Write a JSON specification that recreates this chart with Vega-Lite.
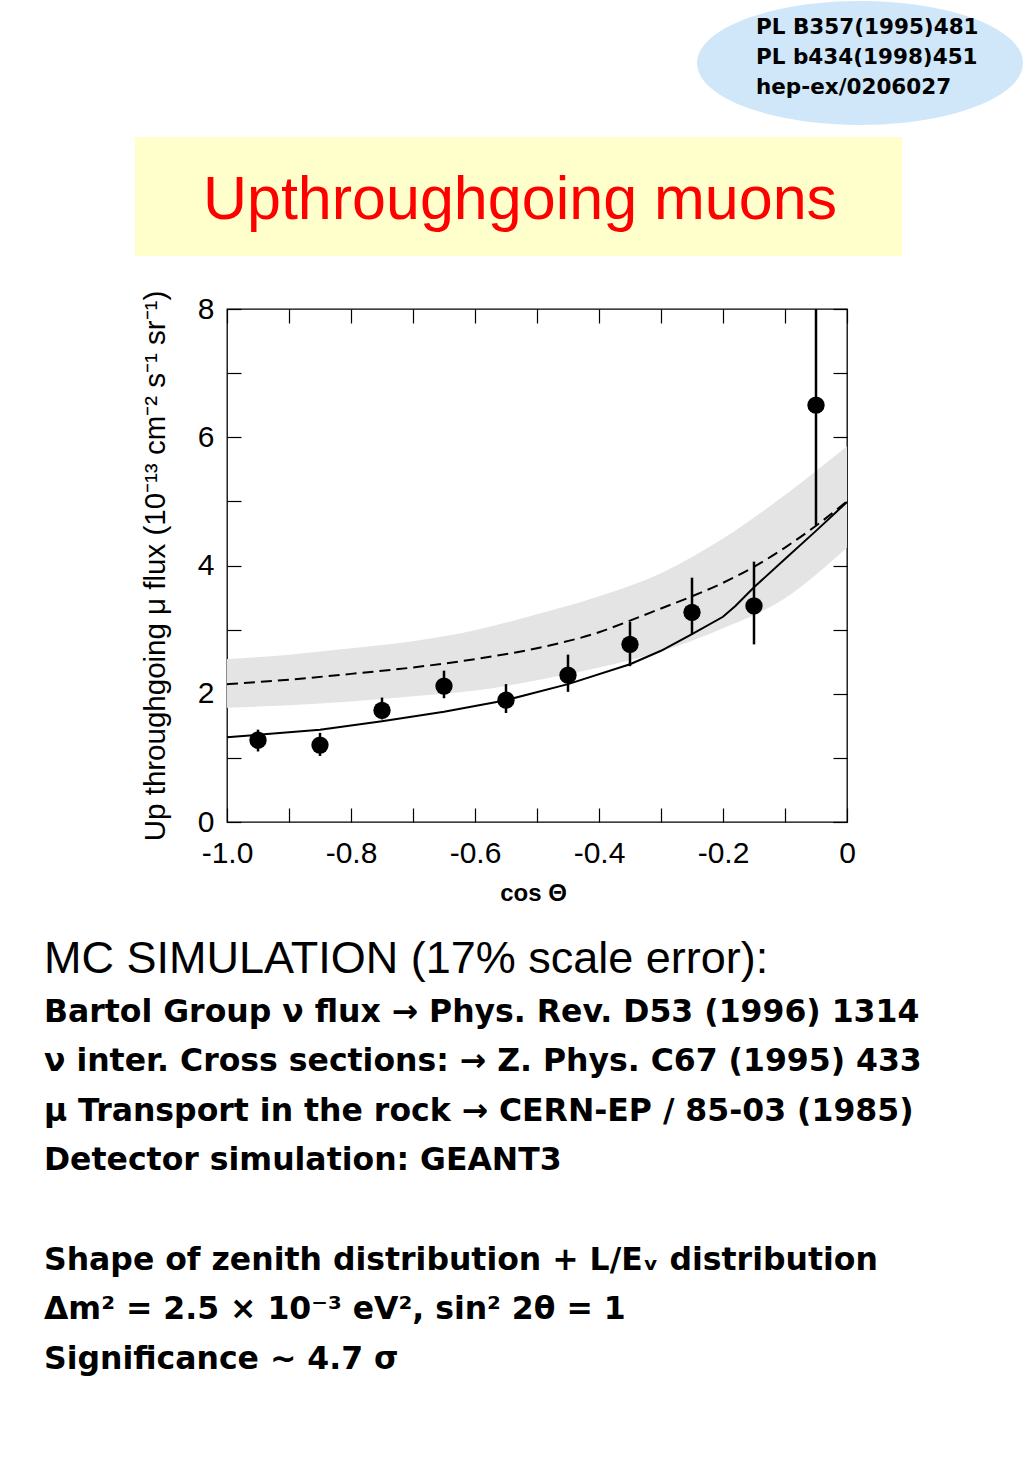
{
  "$schema": "https://vega.github.io/schema/vega-lite/v6.json",
  "width": 620,
  "height": 513,
  "autosize": {"type": "none"},
  "padding": {"left": 227, "top": 309, "right": 177, "bottom": 657},
  "background": "white",
  "config": {"view": {"stroke": "black", "strokeWidth": 1.3}, "font": "Liberation Sans"},
  "datasets": {
    "points": [
      {"cos": -0.95, "flux": 1.275, "lo": 1.10, "hi": 1.44},
      {"cos": -0.85, "flux": 1.20, "lo": 1.03, "hi": 1.39},
      {"cos": -0.75, "flux": 1.74, "lo": 1.60, "hi": 1.94},
      {"cos": -0.65, "flux": 2.12, "lo": 1.93, "hi": 2.36},
      {"cos": -0.55, "flux": 1.90, "lo": 1.70, "hi": 2.15},
      {"cos": -0.45, "flux": 2.29, "lo": 2.03, "hi": 2.61},
      {"cos": -0.35, "flux": 2.77, "lo": 2.43, "hi": 3.12},
      {"cos": -0.25, "flux": 3.27, "lo": 2.93, "hi": 3.81},
      {"cos": -0.15, "flux": 3.37, "lo": 2.77, "hi": 4.06},
      {"cos": -0.05, "flux": 6.50, "lo": 4.63, "hi": 8.0}
    ],
    "band": [
      {"cos": -1.0, "lo": 1.78, "hi": 2.54},
      {"cos": -0.9, "lo": 1.82, "hi": 2.61},
      {"cos": -0.8, "lo": 1.88, "hi": 2.71},
      {"cos": -0.7, "lo": 1.96, "hi": 2.82},
      {"cos": -0.6, "lo": 2.05, "hi": 2.99},
      {"cos": -0.5, "lo": 2.21, "hi": 3.24},
      {"cos": -0.4, "lo": 2.41, "hi": 3.52},
      {"cos": -0.3, "lo": 2.66, "hi": 3.88},
      {"cos": -0.2, "lo": 3.02, "hi": 4.42},
      {"cos": -0.1, "lo": 3.49, "hi": 5.10},
      {"cos": 0.0, "lo": 4.28, "hi": 5.86}
    ],
    "nomix": [
      {"cos": -1.0, "flux": 2.15},
      {"cos": -0.9, "flux": 2.22},
      {"cos": -0.8, "flux": 2.31},
      {"cos": -0.7, "flux": 2.41},
      {"cos": -0.6, "flux": 2.54},
      {"cos": -0.5, "flux": 2.71},
      {"cos": -0.4, "flux": 2.96},
      {"cos": -0.35, "flux": 3.14},
      {"cos": -0.3, "flux": 3.33},
      {"cos": -0.25, "flux": 3.52},
      {"cos": -0.2, "flux": 3.73},
      {"cos": -0.15, "flux": 3.98},
      {"cos": -0.1, "flux": 4.28},
      {"cos": -0.05, "flux": 4.62},
      {"cos": 0.0, "flux": 5.0}
    ],
    "osc": [
      {"cos": -1.0, "flux": 1.32},
      {"cos": -0.95, "flux": 1.36},
      {"cos": -0.85, "flux": 1.44},
      {"cos": -0.75, "flux": 1.57},
      {"cos": -0.65, "flux": 1.72},
      {"cos": -0.55, "flux": 1.90},
      {"cos": -0.45, "flux": 2.15},
      {"cos": -0.35, "flux": 2.46},
      {"cos": -0.3, "flux": 2.67},
      {"cos": -0.25, "flux": 2.93},
      {"cos": -0.2, "flux": 3.20},
      {"cos": -0.18, "flux": 3.37},
      {"cos": -0.15, "flux": 3.66},
      {"cos": -0.1, "flux": 4.10},
      {"cos": -0.05, "flux": 4.54},
      {"cos": 0.0, "flux": 4.99}
    ]
  },
  "resolve": {"axis": {"x": "independent", "y": "independent"}},
  "layer": [
    {
      "data": {"values": [{"label": "header"}]},
      "mark": {"type": "rect", "color": "#ffffcc"},
      "encoding": {
        "x": {"datum": -1.1484, "type": "quantitative", "scale": {"domain": [-1, 0], "nice": false, "zero": false}, "axis": null},
        "x2": {"datum": 0.0887},
        "y": {"datum": 10.682, "type": "quantitative", "scale": {"domain": [0, 8], "nice": false, "zero": false}, "axis": null},
        "y2": {"datum": 8.827}
      }
    },
    {
      "data": {"values": [{"t": "Upthroughgoing muons"}]},
      "mark": {"type": "text", "font": "Liberation Sans", "fontSize": 61, "color": "#ff0000", "align": "center", "baseline": "alphabetic"},
      "encoding": {
        "text": {"field": "t"},
        "x": {"datum": -0.5274, "type": "quantitative", "scale": {"domain": [-1, 0], "nice": false, "zero": false}, "axis": null},
        "y": {"datum": 9.4035, "type": "quantitative", "scale": {"domain": [0, 8], "nice": false, "zero": false}, "axis": null}
      }
    },
    {
      "data": {"values": [{"label": "refs"}]},
      "mark": {"type": "point", "shape": "M-1,0A1,0.38,0,1,1,1,0A1,0.38,0,1,1,-1,0Z", "size": 106276, "filled": true, "color": "#cfe7f9", "opacity": 1},
      "encoding": {
        "x": {"datum": 0.02097, "type": "quantitative", "scale": {"domain": [-1, 0], "nice": false, "zero": false}, "axis": null},
        "y": {"datum": 11.836, "type": "quantitative", "scale": {"domain": [0, 8], "nice": false, "zero": false}, "axis": null}
      }
    },
    {
      "data": {"values": [{"t": "PL B357(1995)481\nPL b434(1998)451\nhep-ex/0206027"}]},
      "mark": {"type": "text", "font": "DejaVu Sans", "fontWeight": "bold", "fontSize": 21.5, "lineHeight": 30, "lineBreak": "\n", "color": "black", "align": "left", "baseline": "alphabetic"},
      "encoding": {
        "text": {"field": "t"},
        "x": {"datum": -0.1468, "type": "quantitative", "scale": {"domain": [-1, 0], "nice": false, "zero": false}, "axis": null},
        "y": {"datum": 12.288, "type": "quantitative", "scale": {"domain": [0, 8], "nice": false, "zero": false}, "axis": null}
      }
    },
    {
      "data": {"name": "band"},
      "mark": {"type": "area", "color": "#e4e4e4", "interpolate": "monotone"},
      "encoding": {
        "x": {
          "field": "cos", "type": "quantitative",
          "scale": {"domain": [-1, 0], "nice": false, "zero": false},
          "axis": {
            "orient": "bottom", "values": [-1, -0.9, -0.8, -0.7, -0.6, -0.5, -0.4, -0.3, -0.2, -0.1, 0],
            "tickSize": -14, "tickColor": "black", "tickWidth": 1.2, "domain": false, "grid": false,
            "labelFont": "Liberation Sans", "labelFontSize": 30, "labelColor": "black", "labelPadding": 30,
            "labelFlush": false, "labelOverlap": false, "labelBaseline": "top",
            "labelExpr": "datum.value == 0 ? '0' : (abs(round(datum.value * 10)) % 2 == 0 ? replace(format(datum.value, '.1f'), '\u2212', '-') : '')",
            "title": "cos Θ", "titleFont": "Liberation Sans", "titleFontWeight": "bold", "titleFontSize": 24, "titleColor": "black",
            "titleX": 306, "titleY": 78, "titleBaseline": "alphabetic", "titleAlign": "center"
          }
        },
        "y": {
          "field": "lo", "type": "quantitative",
          "scale": {"domain": [0, 8], "nice": false, "zero": false},
          "axis": {
            "orient": "left", "values": [0, 1, 2, 3, 4, 5, 6, 7, 8],
            "tickSize": -14, "tickColor": "black", "tickWidth": 1.2, "domain": false, "grid": false,
            "labelFont": "Liberation Sans", "labelFontSize": 30, "labelColor": "black", "labelPadding": 27,
            "labelFlush": false, "labelOverlap": false,
            "labelExpr": "datum.value % 2 == 0 ? format(datum.value, 'd') : ''",
            "title": "Up throughgoing μ flux (10⁻¹³ cm⁻² s⁻¹ sr⁻¹)", "titleFont": "Liberation Sans", "titleFontWeight": "normal",
            "titleFontSize": 29.5, "titleColor": "black",
            "titleX": -63, "titleY": 256.5, "titleAngle": 270, "titleBaseline": "alphabetic", "titleAlign": "center"
          }
        },
        "y2": {"field": "hi"}
      }
    },
    {
      "data": {"name": "nomix"},
      "mark": {"type": "line", "color": "black", "strokeWidth": 2, "strokeDash": [11, 6], "interpolate": "monotone"},
      "encoding": {
        "x": {
          "field": "cos", "type": "quantitative",
          "scale": {"domain": [-1, 0], "nice": false, "zero": false},
          "axis": {"orient": "top", "values": [-1, -0.9, -0.8, -0.7, -0.6, -0.5, -0.4, -0.3, -0.2, -0.1, 0], "tickSize": -14, "tickColor": "black", "tickWidth": 1.2, "labels": false, "domain": false, "grid": false, "title": null}
        },
        "y": {
          "field": "flux", "type": "quantitative",
          "scale": {"domain": [0, 8], "nice": false, "zero": false},
          "axis": {"orient": "right", "values": [0, 1, 2, 3, 4, 5, 6, 7, 8], "tickSize": -14, "tickColor": "black", "tickWidth": 1.2, "labels": false, "domain": false, "grid": false, "title": null}
        }
      }
    },
    {
      "data": {"name": "osc"},
      "mark": {"type": "line", "color": "black", "strokeWidth": 2},
      "encoding": {
        "x": {"field": "cos", "type": "quantitative", "scale": {"domain": [-1, 0], "nice": false, "zero": false}, "axis": null},
        "y": {"field": "flux", "type": "quantitative", "scale": {"domain": [0, 8], "nice": false, "zero": false}, "axis": null}
      }
    },
    {
      "data": {"name": "points"},
      "mark": {"type": "rule", "color": "black", "strokeWidth": 2.5},
      "encoding": {
        "x": {"field": "cos", "type": "quantitative", "scale": {"domain": [-1, 0], "nice": false, "zero": false}, "axis": null},
        "y": {"field": "lo", "type": "quantitative", "scale": {"domain": [0, 8], "nice": false, "zero": false}, "axis": null},
        "y2": {"field": "hi"}
      }
    },
    {
      "data": {"name": "points"},
      "mark": {"type": "point", "shape": "circle", "filled": true, "color": "black", "opacity": 1, "size": 300},
      "encoding": {
        "x": {"field": "cos", "type": "quantitative", "scale": {"domain": [-1, 0], "nice": false, "zero": false}, "axis": null},
        "y": {"field": "flux", "type": "quantitative", "scale": {"domain": [0, 8], "nice": false, "zero": false}, "axis": null}
      }
    },
    {
      "data": {"values": [{"t": "MC SIMULATION (17% scale error):"}]},
      "mark": {"type": "text", "font": "Liberation Sans", "fontSize": 45, "color": "black", "align": "left", "baseline": "alphabetic"},
      "encoding": {
        "text": {"field": "t"},
        "x": {"datum": -1.2952, "type": "quantitative", "scale": {"domain": [-1, 0], "nice": false, "zero": false}, "axis": null},
        "y": {"datum": -2.3548, "type": "quantitative", "scale": {"domain": [0, 8], "nice": false, "zero": false}, "axis": null}
      }
    },
    {
      "data": {"values": [{"t": "Bartol Group ν flux → Phys. Rev. D53 (1996) 1314\nν inter. Cross sections: → Z. Phys. C67 (1995) 433\nμ Transport in the rock → CERN-EP / 85-03 (1985)\nDetector simulation: GEANT3"}]},
      "mark": {"type": "text", "font": "DejaVu Sans", "fontWeight": "bold", "fontSize": 31.5, "lineHeight": 49.5, "lineBreak": "\n", "color": "black", "align": "left", "baseline": "alphabetic"},
      "encoding": {
        "text": {"field": "t"},
        "x": {"datum": -1.2952, "type": "quantitative", "scale": {"domain": [-1, 0], "nice": false, "zero": false}, "axis": null},
        "y": {"datum": -3.1189, "type": "quantitative", "scale": {"domain": [0, 8], "nice": false, "zero": false}, "axis": null}
      }
    },
    {
      "data": {"values": [{"t": "Shape of zenith distribution + L/Eᵥ distribution\nΔm² = 2.5 × 10⁻³ eV², sin² 2θ = 1\nSignificance ~ 4.7 σ"}]},
      "mark": {"type": "text", "font": "DejaVu Sans", "fontWeight": "bold", "fontSize": 31.5, "lineHeight": 49.5, "lineBreak": "\n", "color": "black", "align": "left", "baseline": "alphabetic"},
      "encoding": {
        "text": {"field": "t"},
        "x": {"datum": -1.2952, "type": "quantitative", "scale": {"domain": [-1, 0], "nice": false, "zero": false}, "axis": null},
        "y": {"datum": -6.9786, "type": "quantitative", "scale": {"domain": [0, 8], "nice": false, "zero": false}, "axis": null}
      }
    }
  ]
}
